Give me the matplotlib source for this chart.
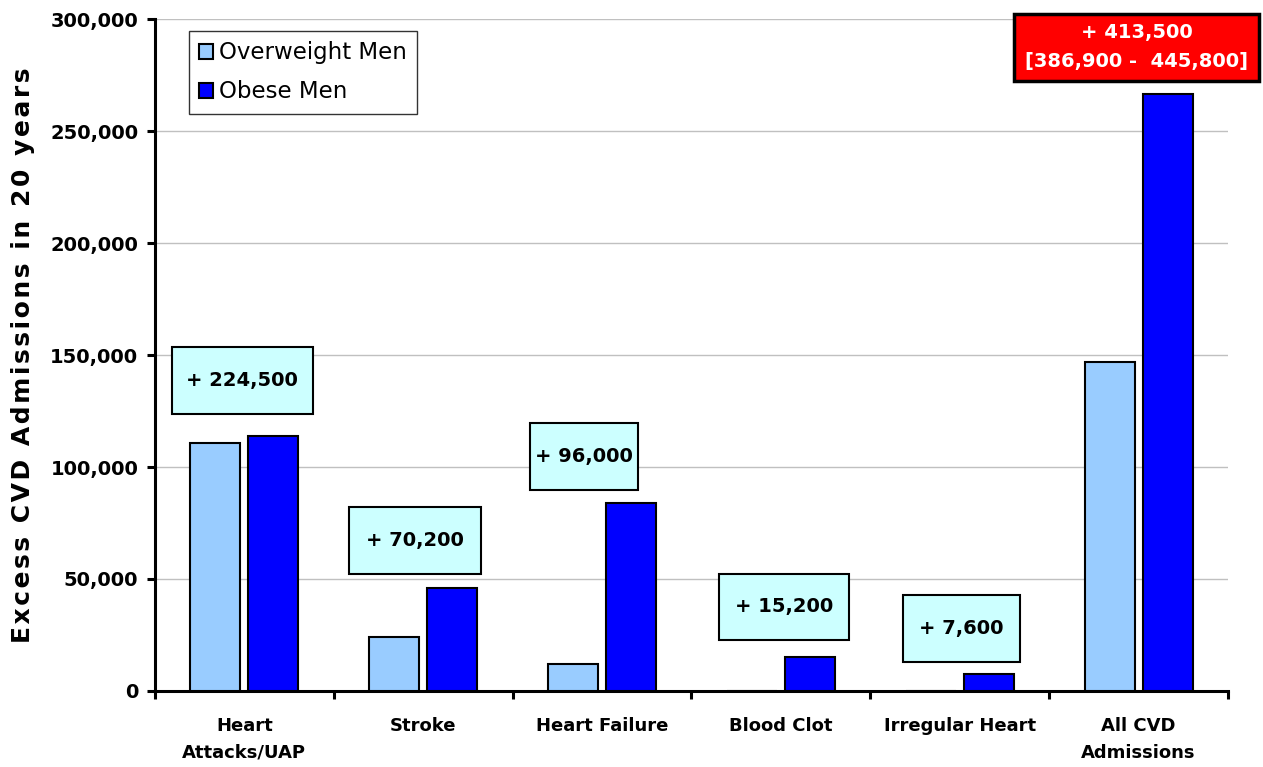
import numpy as np
import matplotlib.pyplot as plt
from matplotlib.patches import Rectangle
from matplotlib.ticker import FuncFormatter

categories = ['Heart\nAttacks/UAP', 'Stroke', 'Heart Failure', 'Blood Clot',
              'Irregular Heart', 'All CVD\nAdmissions']
overweight = [110700, 24200, 12000, 0, 0, 147000]
obese = [113800, 46000, 84000, 15200, 7600, 266500]
series_names = ['Overweight Men', 'Obese Men']
totals = ['+ 224,500', '+ 70,200', '+ 96,000', '+ 15,200', '+ 7,600',
          '+ 413,500\n[386,900 -  445,800]']
ylabel = 'Excess CVD Admissions in 20 years'

# annotation box layout: centre x (category units), centre y (data), width
box_x = [0.487, 1.454, 2.40, 3.52, 4.51, 5.49]
box_y = [138800, 67400, 104500, 37500, 28100, 287500]
box_w = [0.789, 0.733, 0.604, 0.727, 0.654, 1.370]
box_h = 29900

plt.rcParams['font.family'] = 'DejaVu Sans'

fig = plt.figure(figsize=(12.63, 7.67), dpi=100)
ax = fig.add_axes([0.1227, 0.0991, 0.8496, 0.8761])

x = np.arange(len(categories)) + 0.5
w = 0.28
ax.bar(x - 0.162, overweight, w, color='#99ccff', edgecolor='black',
       linewidth=1.5, label=series_names[0], zorder=3)
ax.bar(x + 0.162, obese, w, color='#0000ff', edgecolor='black',
       linewidth=1.5, label=series_names[1], zorder=3)

for i, txt in enumerate(totals):
    last = i == len(totals) - 1
    face = '#ff0000' if last else '#ccffff'
    tcol = 'white' if last else 'black'
    ax.add_patch(Rectangle((box_x[i] - box_w[i] / 2, box_y[i] - box_h / 2),
                           box_w[i], box_h, facecolor=face, edgecolor='black',
                           linewidth=2.5 if last else 1.5, zorder=4,
                           clip_on=False))
    ax.text(box_x[i], box_y[i], txt, ha='center', va='center',
            fontsize=14, fontweight='bold', color=tcol, zorder=5,
            linespacing=1.65, clip_on=False)

ax.set_xlim(0, 6)
ax.set_ylim(0, 300000)
ax.set_yticks(np.arange(0, 300001, 50000))
ax.yaxis.set_major_formatter(FuncFormatter(lambda v, p: f'{int(v):,}'))
ax.grid(axis='y', color='#c0c0c0', linewidth=1, zorder=0)

ax.set_xticks(np.arange(0, 7))
ax.set_xticklabels([])
ax.set_xticks(x, minor=True)
ax.set_xticklabels(categories, minor=True, fontsize=13, fontweight='bold',
                   linespacing=1.6)
ax.tick_params(axis='x', which='minor', length=0, pad=19)
ax.tick_params(axis='x', which='major', length=6, width=2.2, direction='out')
ax.tick_params(axis='y', length=6, width=2.2, direction='out', pad=6,
               labelsize=14)
for lab in ax.get_yticklabels():
    lab.set_fontweight('bold')

for s in ['top', 'right']:
    ax.spines[s].set_visible(False)
for s in ['left', 'bottom']:
    ax.spines[s].set_linewidth(2.2)

# letter-spaced axis title
ax.set_ylabel('\u200a'.join(ylabel), fontsize=18, fontweight='bold',
              labelpad=11)

leg = ax.legend(loc='upper left', bbox_to_anchor=(0.0317, 0.982),
                borderaxespad=0, fontsize=16.5, frameon=True, fancybox=False,
                edgecolor='black', handlelength=0.6, handleheight=0.6,
                handletextpad=0.25, labelspacing=0.7, borderpad=0.45)
leg.get_frame().set_linewidth(1)
leg.set_zorder(6)

fig.savefig('out.png', dpi=100)
